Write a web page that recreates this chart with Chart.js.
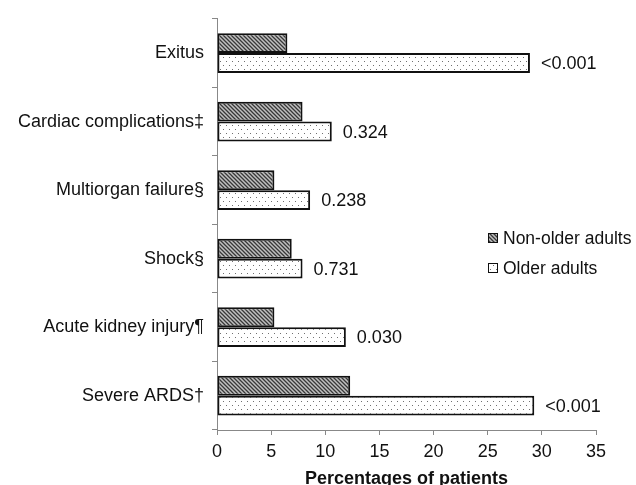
<!DOCTYPE html>
<html>
<head>
<meta charset="utf-8">
<script src="https://cdn.jsdelivr.net/npm/chart.js@4/dist/chart.umd.min.js"></script>
<style>
  html, body { margin: 0; padding: 0; background: #fff; overflow: hidden; }
  #wrap { width: 636px; height: 485px; }
</style>
</head>
<body>
<div id="wrap"><canvas id="chart"></canvas></div>
<script>
// 資料
const categories = ['Exitus', 'Cardiac complications‡', 'Multiorgan failure§', 'Shock§', 'Acute kidney injury¶', 'Severe ARDS†'];
const nonOlder = [6.5, 7.9, 5.3, 6.9, 5.3, 12.3];
const older = [28.9, 10.6, 8.6, 7.9, 11.9, 29.3];
const pValues = ['<0.001', '0.324', '0.238', '0.731', '0.030', '<0.001'];
const seriesNames = ['Non-older adults', 'Older adults'];
const xMin = 0, xMax = 35, xStep = 5;

const FONT = 'Liberation Sans, Arial, sans-serif';

// 斜線 pattern
function hatchPattern() {
  const c = document.createElement('canvas');
  c.width = 4; c.height = 4;
  const g = c.getContext('2d');
  g.fillStyle = '#c0c0c0';
  g.fillRect(0, 0, 4, 4);
  g.strokeStyle = '#383838';
  g.lineWidth = 1.3;
  g.beginPath();
  g.moveTo(-1, -1); g.lineTo(5, 5);
  g.moveTo(3, -1); g.lineTo(5, 1);
  g.moveTo(-1, 3); g.lineTo(1, 5);
  g.stroke();
  return g.createPattern(c, 'repeat');
}

// 點狀 pattern
function dotPattern() {
  const c = document.createElement('canvas');
  c.width = 6; c.height = 8;
  const g = c.getContext('2d');
  g.fillStyle = '#ffffff';
  g.fillRect(0, 0, 6, 8);
  g.fillStyle = '#707070';
  g.fillRect(1, 1, 1, 1);
  g.fillRect(4, 5, 1, 1);
  return g.createPattern(c, 'repeat');
}

const fills = [hatchPattern(), dotPattern()];

// p 值標籤
const pValuePlugin = {
  id: 'pValues',
  afterDatasetsDraw(chart) {
    const ctx = chart.ctx;
    const meta = chart.getDatasetMeta(1);
    ctx.save();
    ctx.font = '18px ' + FONT;
    ctx.fillStyle = '#111';
    ctx.textBaseline = 'middle';
    ctx.textAlign = 'left';
    meta.data.forEach((bar, i) => {
      ctx.fillText(pValues[i], bar.x + 11, bar.y + 1);
    });
    ctx.restore();
  }
};

// 自訂圖例（放在圖表區內右側）
const legendPlugin = {
  id: 'customLegend',
  afterDraw(chart) {
    const ctx = chart.ctx;
    const x = 488, y0 = 238, gap = 30;
    ctx.save();
    ctx.font = '17.5px ' + FONT;
    ctx.textBaseline = 'middle';
    seriesNames.forEach((name, i) => {
      const y = y0 + i * gap;
      ctx.fillStyle = fills[i];
      ctx.fillRect(x, y - 5, 10, 10);
      ctx.strokeStyle = '#111';
      ctx.lineWidth = 1;
      ctx.strokeRect(x + 0.5, y - 4.5, 9, 9);
      ctx.fillStyle = '#111';
      ctx.fillText(name, x + 15, y + 1);
    });
    ctx.restore();
  }
};

new Chart(document.getElementById('chart').getContext('2d'), {
  type: 'bar',
  data: {
    labels: categories,
    datasets: [
      { label: seriesNames[0], data: nonOlder, backgroundColor: fills[0], borderColor: '#111', borderWidth: 2, borderSkipped: false },
      { label: seriesNames[1], data: older, backgroundColor: fills[1], borderColor: '#111', borderWidth: 2, borderSkipped: false }
    ]
  },
  options: {
    indexAxis: 'y',
    responsive: true,
    maintainAspectRatio: false,
    animation: false,
    categoryPercentage: 0.58,
    barPercentage: 1.0,
    layout: { padding: { top: 15, right: 40, bottom: 0, left: 0 } },
    plugins: {
      legend: { display: false },
      tooltip: { enabled: false }
    },
    scales: {
      x: {
        min: xMin, max: xMax,
        ticks: { stepSize: xStep, color: '#111', font: { family: FONT, size: 18 }, padding: 6 },
        grid: { drawOnChartArea: false, drawTicks: true, tickLength: 5, color: '#888' },
        border: { color: '#888', width: 1 },
        title: { display: true, text: 'Percentages of patients', color: '#111', font: { family: FONT, size: 18, weight: 'bold' }, padding: { top: 0, bottom: -5 } },
        afterFit: s => { s.height = 55; }
      },
      y: {
        ticks: { color: '#111', font: { family: FONT, size: 18 }, padding: 8 },
        grid: { drawOnChartArea: false, drawTicks: true, tickLength: 5, color: '#888', offset: true },
        border: { color: '#888', width: 1 },
        afterFit: s => { s.width = 217; }
      }
    }
  },
  plugins: [pValuePlugin, legendPlugin]
});
</script>
</body>
</html>
